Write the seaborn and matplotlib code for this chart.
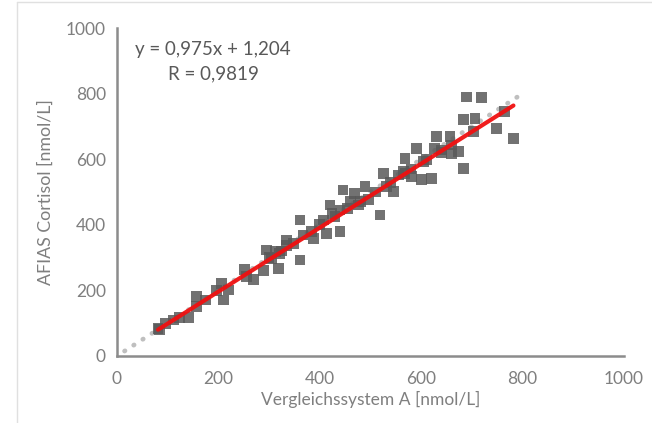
"""Method comparison scatter: AFIAS cortisol vs reference system A."""
import numpy as np
import pandas as pd
import matplotlib
matplotlib.use("Agg")
import matplotlib.pyplot as plt
import seaborn as sns
from matplotlib.lines import Line2D

# --- data ---
ref_a = [81, 84, 95, 111, 123, 141, 157, 157, 174, 197, 206, 210, 220, 252, 256, 269,
         289, 295, 305, 318, 321, 335, 300, 312, 325, 335, 348, 361, 361, 367, 384, 387,
         407, 414, 420, 424, 440, 440, 446, 460, 469, 476, 489, 496, 519, 525, 532, 545,
         555, 568, 400, 430, 455, 480, 510, 540, 580, 610, 640, 565, 568, 581, 591, 601,
         604, 621, 627, 630, 640, 657, 660, 660, 673, 683, 683, 690, 706, 703, 719, 749,
         765, 782]
afias = [84, 80, 100, 110, 118, 118, 150, 181, 171, 199, 222, 171, 201, 264, 242, 234,
         260, 323, 298, 267, 313, 338, 300, 318, 320, 354, 343, 293, 415, 369, 379, 359,
         415, 374, 460, 435, 445, 379, 506, 470, 496, 460, 516, 476, 430, 557, 516, 501,
         552, 557, 400, 425, 450, 470, 500, 530, 570, 600, 620, 562, 602, 547, 633, 537,
         592, 541, 633, 669, 628, 669, 643, 618, 623, 572, 720, 790, 725, 684, 787, 694,
         745, 663]
SLOPE, INTERCEPT = 0.975, 1.204
IDENTITY = [15, 800]
ticks = [0, 200, 400, 600, 800, 1000]
eq_text = "y = 0,975x + 1,204\nR = 0,9819"

df = pd.DataFrame({"ref": ref_a, "afias": afias})

sns.set_style("white")
plt.rcParams["font.family"] = ["Lato", "DejaVu Sans"]

fig = plt.figure(figsize=(6.52, 4.23), dpi=100)
ax = fig.add_axes([0.1794, 0.1584, 0.7776, 0.7754])

# 1:1 reference line (dotted)
ax.plot(IDENTITY, IDENTITY, color="#bfbfbf", lw=3.4, ls=(0, (0.1, 2.2)),
        dash_capstyle="round", zorder=1)

sns.scatterplot(data=df, x="ref", y="afias", marker="s", s=60, color="#595959",
                alpha=0.85, edgecolor="none", ax=ax, zorder=2)

# linear trendline
xr = np.array([min(ref_a), max(ref_a)])
ax.plot(xr, SLOPE * xr + INTERCEPT, color="#f01010", lw=3.0, zorder=3,
        solid_capstyle="round", alpha=0.95)

ax.set_xlim(0, 1000)
ax.set_ylim(0, 1000)
ax.set_xticks(ticks)
ax.set_yticks(ticks)
ax.tick_params(length=0, labelsize=12.5, labelcolor="#7f7f7f", pad=8)
ax.tick_params(axis="x", pad=11)
for side in ("top", "right"):
    ax.spines[side].set_visible(False)
for side in ("left", "bottom"):
    ax.spines[side].set_color("#8c8c8c")
    ax.spines[side].set_linewidth(1.8)

ax.set_xlabel("Vergleichssystem A [nmol/L]", fontsize=12.5, color="#7f7f7f", labelpad=3)
ax.set_ylabel("AFIAS Cortisol [nmol/L]", fontsize=12.8, color="#7f7f7f", labelpad=9)

ax.text(0.19, 0.96, eq_text, transform=ax.transAxes, ha="center", va="top",
        fontsize=13.5, color="#595959", linespacing=1.5)

# faint chart-area frame
fig.add_artist(Line2D([17 / 652, 17 / 652], [0, 1 - 2 / 423], color="#e0e0e0", lw=1))
fig.add_artist(Line2D([17 / 652, 1], [1 - 2 / 423, 1 - 2 / 423], color="#e0e0e0", lw=1))

fig.savefig("out.png", dpi=100)
plt.close(fig)
